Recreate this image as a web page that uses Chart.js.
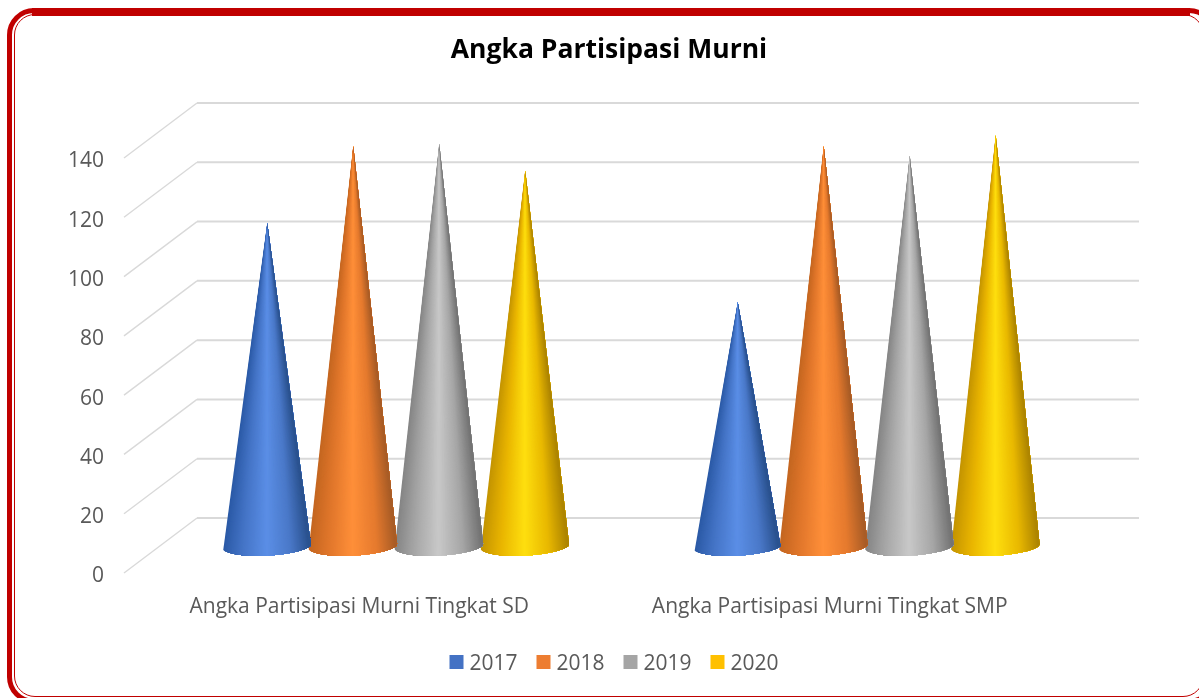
<!DOCTYPE html>
<html>
<head>
<meta charset="utf-8">
<title>Angka Partisipasi Murni</title>
<script src="https://cdn.jsdelivr.net/npm/chart.js@4"></script>
<style>
  html, body { margin: 0; padding: 0; background: #fff; overflow: hidden; }
  #wrap { position: relative; width: 1199px; height: 698px; overflow: hidden; }
  #apm { position: absolute; left: 0; top: 0; }
  /* red double frame, runs off the right and bottom of the picture */
  .frame-out { position: absolute; left: 7px; top: 8px; width: 1199px; height: 685.5px; border: 5.5px solid #c00000; border-radius: 27px; }
  .frame-in { position: absolute; left: 13.5px; top: 13.5px; width: 1188px; height: 681.5px; border: 1.5px solid #c00000; border-radius: 21px; }
  .frame-top { position: absolute; left: 32px; top: 8px; width: 1158px; height: 8px; background: #c00000; }
</style>
</head>
<body>
<div id="wrap">
  <canvas id="apm" width="1199" height="698"></canvas>
  <div class="frame-out"></div>
  <div class="frame-in"></div>
  <div class="frame-top"></div>
</div>
<script>
const chartTitle = 'Angka Partisipasi Murni';
const categories = ['Angka Partisipasi Murni Tingkat SD', 'Angka Partisipasi Murni Tingkat SMP'];
const seriesNames = ['2017', '2018', '2019', '2020'];
const values2017 = [109.3, 82.6];
const values2018 = [135.3, 135.3];
const values2019 = [136, 132];
const values2020 = [127, 139];
const yTicks = [0, 20, 40, 60, 80, 100, 120, 140];

const seriesColors = ['#4472c4', '#ed7d31', '#a5a5a5', '#ffc000'];
// shading across each cone, left edge to right edge
const coneShades = [
  ['#2b5aa6', '#4474c6', '#5b8ee6', '#4a78c8', '#2a528f'],
  ['#c46620', '#e0762b', '#ff8f39', '#e57a2e', '#a85c26'],
  ['#858585', '#a6a6a6', '#c8c8c8', '#a6a6a6', '#747474'],
  ['#c49400', '#e8b400', '#ffdf0f', '#e8b800', '#ae8500']
];
const shadeStops = [0, 0.22, 0.5, 0.78, 1];
const textColor = '#595959';
const gridColor = '#d9d9d9';
const fontFamily = '"Open Sans", "Noto Sans", sans-serif';

// the floor goes back this far from the front plane of the axis
const depthX = 73;
const depthY = -55;

function shadeAt(shades, u) {
  let i = 0;
  while (i < shadeStops.length - 2 && u > shadeStops[i + 1]) i++;
  const t = (u - shadeStops[i]) / (shadeStops[i + 1] - shadeStops[i]);
  const a = shades[i], b = shades[i + 1];
  const ch = pos => {
    const ca = parseInt(a.substr(pos, 2), 16);
    const cb = parseInt(b.substr(pos, 2), 16);
    return Math.round(ca + (cb - ca) * t);
  };
  return `rgb(${ch(1)},${ch(3)},${ch(5)})`;
}

const floorGrid = {
  id: 'floorGrid',
  beforeDatasetsDraw(chart) {
    const { ctx, scales: { x, y } } = chart;
    ctx.save();
    ctx.strokeStyle = gridColor;
    y.ticks.forEach(t => {
      const py = y.getPixelForValue(t.value);
      ctx.lineWidth = 1.4;
      ctx.beginPath();
      ctx.moveTo(x.left, py);
      ctx.lineTo(x.left + depthX, py + depthY);
      ctx.stroke();
      ctx.lineWidth = 2;
      ctx.beginPath();
      ctx.moveTo(x.left + depthX, py + depthY);
      ctx.lineTo(x.right + depthX + 1, py + depthY);
      ctx.stroke();
    });
    ctx.restore();
  }
};

const cones = {
  id: 'cones',
  beforeDatasetDraw(chart, args) {
    const { ctx } = chart;
    const shades = coneShades[args.index];
    args.meta.data.forEach(bar => {
      const p = bar.getProps(['x', 'y', 'base', 'width'], true);
      const cx = p.x + depthX / 2 - 0.3;
      const cy = p.base + depthY / 2 + 0.5;
      const tipX = cx + 0.8;
      const tipY = p.y + depthY / 2 + 1.5;
      const rx = p.width * 0.52;
      ctx.save();
      ctx.beginPath();
      ctx.moveTo(tipX, tipY);
      ctx.ellipse(cx, cy, rx, 9.5, -0.045, 0, Math.PI);
      ctx.closePath();
      ctx.clip();
      // thin wedges from the tip so the shading narrows with the cone
      const steps = 80;
      const bottom = cy + 30;
      for (let i = 0; i < steps; i++) {
        const x0 = cx - rx - 2 + (2 * rx + 4) * i / steps;
        ctx.fillStyle = shadeAt(shades, i / (steps - 1));
        ctx.beginPath();
        ctx.moveTo(tipX, tipY - 1);
        ctx.lineTo(x0, bottom);
        ctx.lineTo(cx + rx + 4, bottom);
        ctx.closePath();
        ctx.fill();
      }
      ctx.restore();
    });
    return false; // the plain bar is not drawn
  }
};

const legendRow = {
  id: 'legendRow',
  afterDraw(chart) {
    const { ctx } = chart;
    ctx.save();
    ctx.font = `21px ${fontFamily}`;
    ctx.textBaseline = 'middle';
    chart.data.datasets.forEach((ds, i) => {
      const left = 449.5 + i * 87;
      ctx.fillStyle = ds.backgroundColor;
      ctx.fillRect(left, 655, 14, 14);
      ctx.fillStyle = textColor;
      ctx.fillText(ds.label, left + 20, 664);
    });
    ctx.restore();
  }
};

const allValues = [values2017, values2018, values2019, values2020];

new Chart(document.getElementById('apm'), {
  type: 'bar',
  data: {
    labels: categories,
    datasets: seriesNames.map((name, i) => ({
      label: name,
      data: allValues[i],
      backgroundColor: seriesColors[i],
      borderWidth: 0,
      categoryPercentage: 0.731,
      barPercentage: 1
    }))
  },
  plugins: [floorGrid, cones, legendRow],
  options: {
    responsive: false,
    animation: false,
    layout: { padding: { left: 19, right: 0, top: 0, bottom: 0 } },
    scales: {
      x: {
        grid: { display: false, drawTicks: false },
        border: { display: false },
        ticks: { color: textColor, font: { family: fontFamily, size: 21 }, padding: 21, maxRotation: 0, autoSkip: false },
        afterFit: s => { s.height = 125; }
      },
      y: {
        min: 0,
        max: 140,
        grid: { display: false, drawTicks: false },
        border: { display: false },
        afterBuildTicks: s => { s.ticks = yTicks.map(v => ({ value: v })); },
        ticks: { color: textColor, font: { family: fontFamily, size: 21 }, padding: 20, labelOffset: 3.5 },
        afterFit: s => { s.width = 105; }
      },
      // empty axis, only keeps the room right of the front plane
      yRight: {
        position: 'right',
        grid: { display: false, drawTicks: false },
        border: { display: false },
        ticks: { display: false },
        afterFit: s => { s.width = 134; }
      }
    },
    plugins: {
      title: {
        display: true,
        text: chartTitle,
        color: '#000',
        font: { family: fontFamily, size: 26.5, weight: 'bold' },
        padding: { top: 35, bottom: 91.2 }
      },
      legend: { display: false },
      tooltip: { enabled: false }
    }
  }
});
</script>
</body>
</html>
